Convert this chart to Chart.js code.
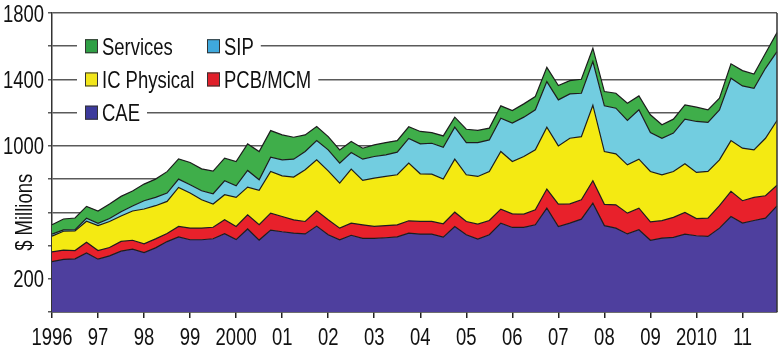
<!DOCTYPE html>
<html>
<head>
<meta charset="utf-8">
<script src="https://cdn.jsdelivr.net/npm/chart.js@4"></script>
<style>
  html, body { margin: 0; padding: 0; background: #fff; }
  canvas { display: block; }
</style>
</head>
<body>
<canvas id="revenueChart" width="782" height="349"></canvas>
<script>
// Квартальная выручка по сегментам, $ млн (1996 Q1 – 2011 Q4)
const yearLabels = ['1996', '97', '98', '99', '2000', '01', '02', '03', '04', '05', '06', '07', '08', '09', '2010', '11'];
const quarterNames = ['Q1', 'Q2', 'Q3', 'Q4'];
const shownYTicks = [200, 1000, 1400, 1800];

const cae = [303, 317, 320, 355, 318, 338, 366, 378, 358, 386, 424, 452, 435, 435, 441, 471,
             436, 500, 433, 493, 483, 475, 470, 517, 465, 435, 462, 443, 443, 447, 452, 475,
             469, 469, 451, 515, 465, 439, 465, 535, 509, 509, 525, 625, 515, 535, 559, 655,
             520, 505, 470, 495, 432, 445, 449, 469, 459, 455, 505, 575, 535, 551, 565, 639];
const pcbMcm = [59, 55, 50, 65, 52, 50, 59, 54, 52, 54, 48, 63, 70, 70, 69, 84,
                79, 85, 92, 102, 92, 80, 75, 92, 90, 70, 73, 82, 72, 73, 73, 74,
                76, 76, 80, 86, 80, 90, 86, 84, 82, 80, 90, 115, 134, 116, 116, 135,
                128, 140, 125, 130, 111, 105, 121, 130, 103, 110, 135, 151, 135, 139, 135, 124];
const icPhysical = [95, 114, 118, 126, 150, 157, 153, 176, 210, 200, 194, 235, 211, 171, 140, 151,
                    175, 167, 207, 251, 245, 257, 311, 307, 295, 271, 325, 267, 291, 296, 301, 347,
                    287, 285, 269, 319, 281, 287, 295, 347, 315, 347, 361, 373, 351, 395, 381, 455,
                    318, 307, 291, 295, 303, 276, 276, 293, 278, 281, 276, 306, 316, 286, 346, 390];
const sip = [12, 8, 8, 18, 14, 18, 25, 30, 50, 50, 50, 50, 50, 54, 62, 84,
             70, 100, 64, 86, 96, 108, 110, 116, 126, 120, 100, 128, 130, 130, 136, 149,
             180, 186, 192, 193, 194, 204, 190, 201, 231, 237, 241, 274, 277, 267, 261, 263,
             275, 275, 267, 297, 234, 220, 231, 269, 307, 295, 301, 375, 375, 371, 421, 415];
const services = [56, 66, 70, 72, 74, 87, 93, 90, 100, 110, 129, 122, 134, 132, 136, 136,
                  146, 160, 170, 160, 150, 132, 100, 85, 80, 80, 66, 66, 70, 74, 70, 70,
                  75, 64, 68, 60, 80, 73, 71, 74, 76, 80, 80, 86, 86, 80, 84, 80,
                  86, 90, 104, 84, 107, 81, 84, 86, 86, 76, 70, 87, 92, 86, 91, 114];

// подписи кварталов: "1996 Q1", "1996 Q2", ...
const quarters = [];
yearLabels.forEach((y, i) => {
    const full = 1996 + i;
    quarterNames.forEach(q => quarters.push(full + ' ' + q));
});

// узкий шрифт: Liberation Sans, сжатый по горизонтали
const FONT = "24px 'Liberation Sans', Arial, sans-serif";
const SQUEEZE = 0.77;
const INK = '#111';

const series = [
    { label: 'CAE',         data: cae,        fill: '#4e3f9e', box: '#3c3a9c' },
    { label: 'PCB/MCM',     data: pcbMcm,     fill: '#e8212b', box: '#e01f2a' },
    { label: 'IC Physical', data: icPhysical, fill: '#f4ea12', box: '#f2e61a' },
    { label: 'SIP',         data: sip,        fill: '#72cde0', box: '#3fa9dd' },
    { label: 'Services',    data: services,   fill: '#3fae4a', box: '#2f9f45' }
];

// легенда: строки на линиях сетки 1600 / 1400 / 1200
const legendLayout = [
    { label: 'Services',    col: 0, row: 1600 },
    { label: 'SIP',         col: 1, row: 1600 },
    { label: 'IC Physical', col: 0, row: 1400 },
    { label: 'PCB/MCM',     col: 1, row: 1400 },
    { label: 'CAE',         col: 0, row: 1200 }
];
const legendColX = [85, 207];

function narrowText(c, text, x, y, align) {
    c.save();
    c.translate(x, y);
    c.scale(SQUEEZE, 1);
    c.textAlign = align;
    c.textBaseline = 'alphabetic';
    c.fillText(text, 0, 0);
    c.restore();
}

const decor = {
    id: 'decor',
    afterDraw(chart) {
        const c = chart.ctx;
        const area = chart.chartArea;
        const xScale = chart.scales.x;
        const yScale = chart.scales.y;

        c.save();
        // правая рамка
        c.strokeStyle = '#333';
        c.lineWidth = 1.5;
        c.beginPath();
        c.moveTo(area.right, area.top);
        c.lineTo(area.right, area.bottom);
        c.stroke();

        c.font = FONT;
        c.fillStyle = INK;

        // подписи осей
        xScale.ticks.forEach((t, i) => {
            if (t.label) narrowText(c, t.label, xScale.getPixelForTick(i), 345, 'center');
        });
        yScale.ticks.forEach((t, i) => {
            if (t.label) narrowText(c, t.label, 44, yScale.getPixelForTick(i) + 8.5, 'right');
        });

        // белая подложка под строками легенды
        const rowEnd = {};
        legendLayout.forEach(item => {
            const x = legendColX[item.col] + 17 + c.measureText(item.label).width * SQUEEZE;
            rowEnd[item.row] = Math.max(rowEnd[item.row] || 0, x);
        });
        c.fillStyle = '#fff';
        Object.keys(rowEnd).forEach(v => {
            const y = yScale.getPixelForValue(Number(v));
            c.fillRect(77, y - 12, rowEnd[v] + 7 - 77, 24);
        });

        // квадраты и подписи легенды
        legendLayout.forEach(item => {
            const s = series.find(d => d.label === item.label);
            const x = legendColX[item.col];
            const y = yScale.getPixelForValue(item.row);
            c.fillStyle = s.box;
            c.fillRect(x, y - 7, 13, 14);
            c.strokeStyle = '#333';
            c.lineWidth = 1;
            c.strokeRect(x + 0.5, y - 6.5, 12, 13);
            c.fillStyle = INK;
            narrowText(c, item.label, x + 17, y + 8.5, 'left');
        });

        // подпись оси Y
        c.translate(32, yScale.getPixelForValue(600));
        c.rotate(-Math.PI / 2);
        narrowText(c, '$ Millions', 0, 0, 'center');
        c.restore();
    }
};

function createRevenueChart() {
    const ctx = document.getElementById('revenueChart');
    new Chart(ctx, {
        type: 'line',
        data: {
            labels: quarters,
            datasets: series.map((s, i) => ({
                label: s.label,
                data: s.data,
                backgroundColor: s.fill,
                borderColor: '#1d1d1d',
                borderWidth: 1.2,
                fill: i === 0 ? 'origin' : '-1',
                pointRadius: 0,
                tension: 0
            }))
        },
        options: {
            responsive: false,
            animation: false,
            layout: { padding: { top: 13, right: 5, left: 0, bottom: 0 } },
            plugins: {
                legend: { display: false },
                tooltip: { enabled: false }
            },
            scales: {
                x: {
                    offset: false,
                    grid: {
                        drawOnChartArea: false,
                        tickLength: 6,
                        lineWidth: 1.5,
                        color: c => (c.index % 4 === 0 ? '#222' : 'rgba(0,0,0,0)')
                    },
                    border: { color: '#333', width: 1.5 },
                    ticks: {
                        autoSkip: false,
                        maxRotation: 0,
                        minRotation: 0,
                        color: 'rgba(0,0,0,0)',
                        font: { size: 12, lineHeight: 1 },
                        callback: (v, i) => (i % 4 === 0 ? yearLabels[i / 4] : '')
                    },
                    afterFit: s => { s.height = 37; }
                },
                y: {
                    stacked: true,
                    min: 0,
                    max: 1800,
                    grid: { color: '#5a5a5a', lineWidth: 1.5, tickLength: 4 },
                    border: { color: '#333', width: 1.5 },
                    ticks: {
                        stepSize: 200,
                        color: 'rgba(0,0,0,0)',
                        font: { size: 12, lineHeight: 1 },
                        callback: v => (shownYTicks.includes(v) ? String(v) : '')
                    },
                    afterFit: s => { s.width = 52; }
                }
            }
        },
        plugins: [decor]
    });
}

window.onload = function() {
    createRevenueChart();
};
</script>
</body>
</html>
